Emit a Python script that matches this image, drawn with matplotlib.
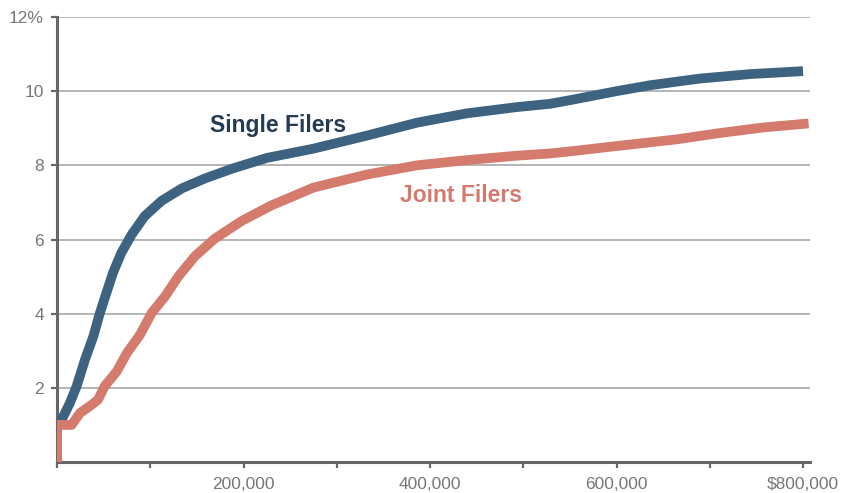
import matplotlib.pyplot as plt
import matplotlib

matplotlib.use('Agg')
plt.rcParams['font.family'] = ['Liberation Sans', 'DejaVu Sans']

# income (dollars) and average tax rate (%)
single_x = [0, 0, 3000, 6800, 14000, 21000, 30000, 39000, 46000, 53000, 60000, 69000,
            80000, 94000, 112000, 134000, 159000, 189000, 225000, 275000, 332000,
            386000, 439000, 493000, 529000, 555000, 600000, 636000, 689500, 743000, 800000]
single_y = [0, 1.0, 1.05, 1.23, 1.6, 2.04, 2.76, 3.39, 4.02, 4.56, 5.1, 5.64,
            6.13, 6.63, 7.04, 7.38, 7.65, 7.92, 8.2, 8.45, 8.8,
            9.15, 9.4, 9.57, 9.66, 9.78, 10.0, 10.16, 10.34, 10.46, 10.54]

joint_x = [0, 0, 15700, 24600, 37000, 44000, 51000, 64000, 75000, 89000, 101500,
           116000, 130000, 148000, 169000, 198000, 230000, 262000, 275000, 332000,
           386000, 439000, 493000, 529000, 555000, 600000, 664500, 707500, 757000, 806000]
joint_y = [0, 1.0, 1.0, 1.32, 1.54, 1.68, 2.04, 2.44, 2.94, 3.43, 4.02,
           4.47, 5.0, 5.55, 6.02, 6.5, 6.92, 7.26, 7.4, 7.75,
           8.0, 8.14, 8.26, 8.32, 8.39, 8.52, 8.7, 8.86, 9.02, 9.13]

x_ticks = [0, 100000, 200000, 300000, 400000, 500000, 600000, 700000, 800000]
x_labels = ['', '', '200,000', '', '400,000', '', '600,000', '', '$800,000']
y_ticks = [2, 4, 6, 8, 10, 12]
y_labels = ['2', '4', '6', '8', '10', '12%']

blue = '#3d6380'
blue_text = '#243b55'
salmon = '#d47b6e'
gray = '#666666'

fig = plt.figure(figsize=(8.47, 4.93), dpi=100)
x0, x1 = 57, 810
xmax = (x1 - 57) / 93.25 * 100000
ax = fig.add_axes([x0 / 847, 1 - 462 / 493, (x1 - x0) / 847, (462 - 17) / 493])

ax.plot(single_x, single_y, color=blue, lw=7, solid_capstyle='butt',
        solid_joinstyle='round', zorder=3)
ax.plot(joint_x, joint_y, color=salmon, lw=7, solid_capstyle='butt',
        solid_joinstyle='round', zorder=4)

ax.set_xlim(0, xmax)
ax.set_ylim(0, 12)
ax.set_xticks(x_ticks)
ax.set_xticklabels(x_labels)
ax.set_yticks(y_ticks)
ax.set_yticklabels(y_labels)

ax.grid(axis='y', color='#a8a8a8', lw=1.2)
ax.set_axisbelow(True)
for s in ['top', 'right']:
    ax.spines[s].set_visible(False)
for s in ['left', 'bottom']:
    ax.spines[s].set_color(gray)
    ax.spines[s].set_linewidth(2.2)

ax.tick_params(axis='both', colors=gray, labelcolor='#777777', labelsize=12.5,
               length=4.5, width=1.6)
ax.tick_params(axis='y', pad=5)
ax.tick_params(axis='x', pad=6.5)

ax.text(164000, 8.89, 'Single Filers', color=blue_text, fontsize=16.5,
        fontweight='bold', va='baseline')
ax.text(368000, 7.0, 'Joint Filers', color=salmon, fontsize=16.5,
        fontweight='bold', va='baseline')

fig.savefig('out.png', dpi=100)
